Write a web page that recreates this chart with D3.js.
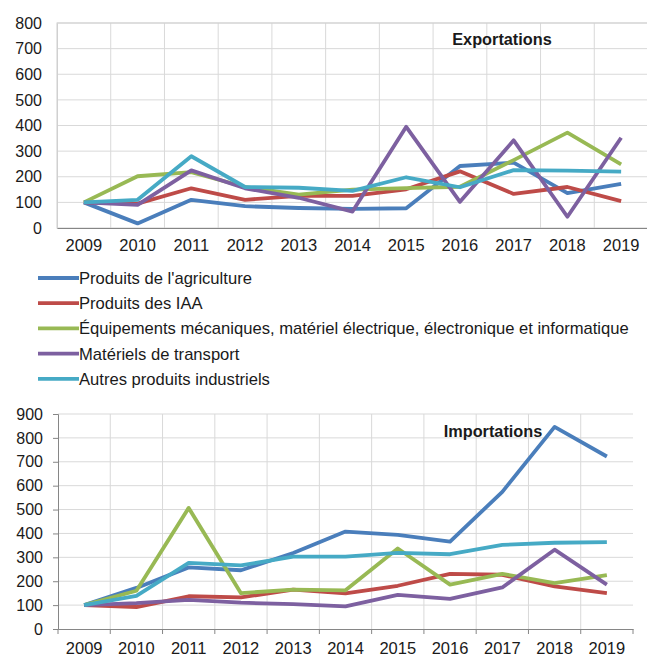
<!DOCTYPE html>
<html>
  <head>
    <meta charset="UTF-8" />
    <style>
      body { margin: 0; background: #fff; }
      svg { display: block; font-family: "Liberation Sans", Arial, sans-serif; }
    </style>
  </head>
  <body>
    <svg></svg>
    <script src="https://d3js.org/d3.v7.min.js"></script>
    <script>
      let width = 647,
        height = 657;

      // Data
      var years = ["2009", "2010", "2011", "2012", "2013", "2014", "2015", "2016", "2017", "2018", "2019"];
      var seriesNames = [
        "Produits de l'agriculture",
        "Produits des IAA",
        "Équipements mécaniques, matériel électrique, électronique et informatique",
        "Matériels de transport",
        "Autres produits industriels",
      ];
      var seriesColors = ["#4a7ebb", "#be4b48", "#98b954", "#7d60a0", "#46aac5"];

      var expAgri = [100, 18, 110, 85, 78, 75, 77, 242, 255, 136, 172];
      var expIaa = [100, 95, 155, 110, 125, 125, 151, 221, 133, 160, 105];
      var expEquip = [100, 202, 218, 160, 130, 150, 156, 161, 265, 372, 248];
      var expTransport = [100, 90, 225, 155, 118, 64, 395, 102, 342, 44, 352];
      var expAutres = [100, 110, 280, 160, 157, 145, 198, 159, 226, 224, 220];

      var impAgri = [100, 172, 258, 246, 318, 408, 394, 366, 574, 846, 722];
      var impIaa = [100, 92, 137, 132, 165, 149, 181, 231, 227, 178, 150];
      var impEquip = [100, 160, 507, 150, 165, 162, 337, 186, 231, 192, 226];
      var impTransport = [100, 108, 122, 110, 104, 95, 143, 126, 174, 332, 186];
      var impAutres = [100, 139, 277, 266, 303, 303, 319, 313, 352, 361, 364];

      var expTicks = [0, 100, 200, 300, 400, 500, 600, 700, 800];
      var impTicks = [0, 100, 200, 300, 400, 500, 600, 700, 800, 900];

      let svg = d3.select("svg").attr("width", width).attr("height", height);

      function drawChart(cfg) {
        let g = svg.append("g");
        let x = d3.scaleBand().domain(years).range([cfg.left, cfg.right]);
        let y = d3
          .scaleLinear()
          .domain([0, cfg.ticks[cfg.ticks.length - 1]])
          .range([cfg.bottom, cfg.top]);

        // gridlines
        g.append("g")
          .selectAll("line")
          .data(cfg.ticks.slice(1))
          .enter()
          .append("line")
          .attr("x1", cfg.left)
          .attr("x2", cfg.right)
          .attr("y1", (d) => y(d))
          .attr("y2", (d) => y(d))
          .attr("stroke", "#d9d9d9")
          .attr("stroke-width", 1);

        g.append("g")
          .selectAll("line")
          .data(years.slice(1))
          .enter()
          .append("line")
          .attr("x1", (d) => x(d))
          .attr("x2", (d) => x(d))
          .attr("y1", cfg.top)
          .attr("y2", cfg.bottom)
          .attr("stroke", "#d9d9d9")
          .attr("stroke-width", 1);

        if (cfg.border) {
          g.append("rect")
            .attr("x", cfg.left)
            .attr("y", cfg.top)
            .attr("width", cfg.right - cfg.left)
            .attr("height", cfg.bottom - cfg.top)
            .attr("fill", "none")
            .attr("stroke", "#d0d0d0");
        }

        // axes
        let yAxis = d3
          .axisLeft(y)
          .tickValues(cfg.ticks)
          .tickSize(cfg.tickMarks ? 5 : 0)
          .tickPadding(cfg.tickMarks ? 10 : 15);
        let ya = g
          .append("g")
          .attr("transform", "translate(" + cfg.left + ",0)")
          .call(yAxis);
        ya.select(".domain")
          .attr("stroke", cfg.tickMarks ? "#868686" : "#d0d0d0");
        ya.selectAll(".tick text").style("font-size", "16px");

        let xAxis = d3
          .axisBottom(x)
          .tickSize(0)
          .tickPadding(cfg.labelPad);
        let xa = g
          .append("g")
          .attr("transform", "translate(0," + cfg.bottom + ")")
          .call(xAxis);
        xa.select(".domain").attr("stroke", "#868686").attr("stroke-width", 1.2);
        xa.selectAll(".tick text").style("font-size", "16.5px");

        if (cfg.tickMarks) {
          g.append("g")
            .selectAll("line")
            .data(years.concat(["end"]))
            .enter()
            .append("line")
            .attr("x1", (d, i) => cfg.left + i * x.step())
            .attr("x2", (d, i) => cfg.left + i * x.step())
            .attr("y1", cfg.bottom)
            .attr("y2", cfg.bottom + 5)
            .attr("stroke", "#868686");
          ya.selectAll(".tick line").attr("stroke", "#868686");
        }

        g.selectAll(".tick text")
          .attr("fill", "#1a1a1a")
          .style("font-family", "'Liberation Sans', Arial, sans-serif");

        // lines
        let line = d3
          .line()
          .x((d, i) => x(years[i]) + x.bandwidth() / 2)
          .y((d) => y(d));

        g.append("g")
          .selectAll("path")
          .data(cfg.series)
          .enter()
          .append("path")
          .attr("d", (d) => line(d))
          .attr("fill", "none")
          .attr("stroke", (d, i) => seriesColors[i])
          .attr("stroke-width", 3.8)
          .attr("stroke-linejoin", "round");

        g.append("text")
          .attr("x", cfg.titleX)
          .attr("y", cfg.titleY)
          .attr("text-anchor", "middle")
          .style("font-size", "16.3px")
          .style("font-weight", "bold")
          .attr("fill", "#1a1a1a")
          .text(cfg.title);
      }

      drawChart({
        left: 57,
        right: 648,
        top: 23,
        bottom: 228,
        ticks: expTicks,
        series: [expAgri, expIaa, expEquip, expTransport, expAutres],
        border: true,
        tickMarks: false,
        labelPad: 11,
        title: "Exportations",
        titleX: 502,
        titleY: 45,
      });

      drawChart({
        left: 58,
        right: 633,
        top: 414,
        bottom: 629,
        ticks: impTicks,
        series: [impAgri, impIaa, impEquip, impTransport, impAutres],
        border: false,
        tickMarks: true,
        labelPad: 13,
        title: "Importations",
        titleX: 493,
        titleY: 437,
      });

      // legend
      let legend = svg
        .append("g")
        .selectAll("g")
        .data(seriesNames)
        .enter()
        .append("g")
        .attr("transform", (d, i) => "translate(38," + (278 + i * 25.2) + ")");
      legend
        .append("line")
        .attr("x1", 0)
        .attr("x2", 41)
        .attr("stroke", (d, i) => seriesColors[i])
        .attr("stroke-width", 3.8);
      legend
        .append("text")
        .attr("x", 41)
        .attr("dy", "0.36em")
        .style("font-size", "16.6px")
        .attr("fill", "#1a1a1a")
        .text((d) => d);
    </script>
  </body>
</html>
